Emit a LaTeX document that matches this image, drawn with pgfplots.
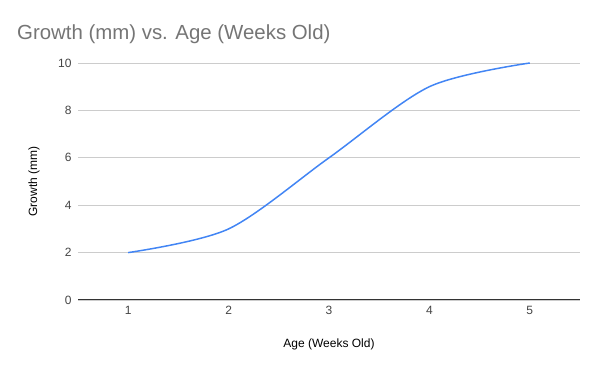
\documentclass[border=0pt]{standalone}
\usepackage{pgfplots}
\pgfplotsset{compat=1.18}
\usepackage{fontspec}
\setmainfont{Liberation Sans}
\definecolor{gblue}{HTML}{4285F4}
\definecolor{ggrid}{HTML}{CCCCCC}
\definecolor{gtext}{HTML}{444444}
\definecolor{gtitle}{HTML}{757575}
\begin{document}
\begin{tikzpicture}[x=1pt,y=1pt]
\path[use as bounding box] (0,0) rectangle (600,371);
\node[anchor=base west,font=\fontsize{20.4}{22}\selectfont,text=gtitle,inner sep=0pt] at (17,371-40) {Growth (mm) vs. Age (Weeks Old)};
\begin{axis}[
  at={(78pt,71pt)}, anchor=south west,
  scale only axis, width=502pt, height=237pt,
  xmin=0.5, xmax=5.5, ymin=0, ymax=10,
  xtick={1,2,3,4,5}, ytick={0,2,4,6,8,10},
  axis line style={draw=none},
  major tick length=0pt,
  ymajorgrids, grid style={ggrid, line width=0.75pt},
  tick label style={font=\fontsize{12}{13}\selectfont, text=gtext},
  /pgf/number format/assume math mode=true,
  yticklabel style={xshift=-3pt},
  xticklabel style={yshift=-3pt},
  xlabel={Age (Weeks Old)}, ylabel={Growth (mm)},
  label style={font=\fontsize{12}{13}\selectfont, text=black},
  xlabel style={at={(axis description cs:0.5,0)}, anchor=base, yshift=-48pt},
  ylabel style={at={(axis description cs:0,0.5)}, anchor=base, xshift=0pt, yshift=41pt},
  clip=false,
]
\addplot[gblue, line width=1.5pt, smooth, tension=0.5] coordinates {(1,2) (2,3) (3,6) (4,9) (5,10)};
\draw[black!80, line width=1pt] (axis cs:0.5,0) -- (axis cs:5.5,0);
\end{axis}
\end{tikzpicture}
\end{document}
